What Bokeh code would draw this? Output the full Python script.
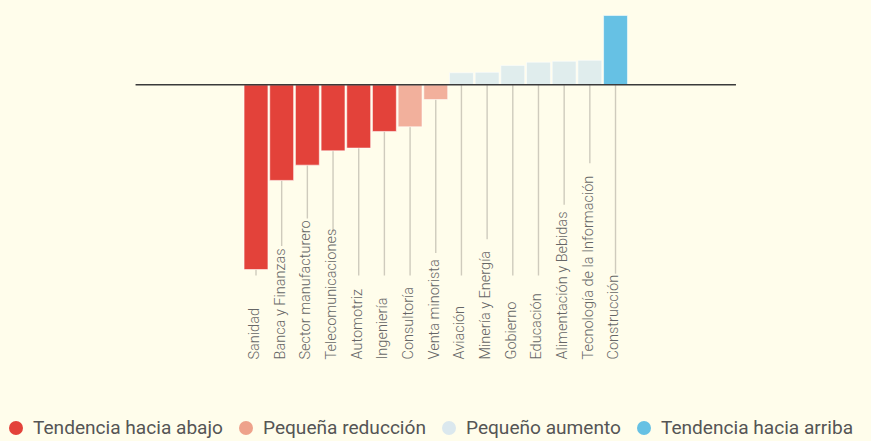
import math
from bokeh.plotting import figure
from bokeh.models import Range1d, Legend, LegendItem, ColumnDataSource
from bokeh.core.properties import value
from bokeh.embed import file_html
from bokeh.resources import INLINE

# ---------------- data ----------------
categories = ["Sanidad", "Banca y Finanzas", "Sector manufacturero", "Telecomunicaciones",
              "Automotriz", "Ingeniería", "Consultoría", "Venta minorista", "Aviación",
              "Minería y Energía", "Gobierno", "Educación", "Alimentación y Bebidas",
              "Tecnología de la Información", "Construcción"]
values = [-40.0, -20.7, -17.4, -14.3, -13.7, -10.1, -9.1, -3.2,
          2.6, 2.7, 4.2, 4.9, 5.1, 5.3, 15.0]
trend = [0, 0, 0, 0, 0, 0, 1, 1, 2, 2, 2, 2, 2, 2, 3]
legend_labels = ["Tendencia hacia abajo", "Pequeña reducción", "Pequeño aumento", "Tendencia hacia arriba"]

# ---------------- style / layout ----------------
BG = "#fffdeb"
bar_colors = ["#e3423a", "#f2b09c", "#e0eded", "#66c1e4"]
legend_colors = ["#e3423a", "#eea28b", "#dbe8ee", "#66c1e4"]
W, H = 870, 440
PX = 4.618          # pixels per unit
BASE_Y = 84.3       # baseline distance from top (px)
PITCH = 25.68       # px per category
FIRST = 255.5       # px of first category centre
PAD = 4.19          # baseline extension in bands
LABEL_PX = 359      # label start (px from top)
CHAR_W = 6.9
LINE_MAX = 275

n = len(categories)
xs = list(range(n))

p = figure(width=W, height=H, output_backend="svg", toolbar_location=None,
           x_range=Range1d(-FIRST / PITCH, (W - FIRST) / PITCH),
           y_range=Range1d(-(H - BASE_Y) / PX, BASE_Y / PX),
           min_border=0, min_border_left=0, min_border_right=0,
           min_border_top=0, min_border_bottom=0)
p.axis.visible = False
p.xgrid.visible = False
p.ygrid.visible = False
p.outline_line_color = None
p.background_fill_color = BG
p.border_fill_color = BG

# connector lines from bar end to label
y0s, y1s = [], []
for c, v in zip(categories, values):
    top_px = LABEL_PX - len(c) * CHAR_W - 3
    end_px = min(LINE_MAX, top_px)
    y0s.append(min(v, 0))
    y1s.append(-(end_px - BASE_Y) / PX)
p.segment(x0=xs, x1=xs, y0=y0s, y1=y1s, line_color="#cfcbbd", line_width=1.4)

src = ColumnDataSource(dict(x=xs, top=values, color=[bar_colors[t] for t in trend]))
p.vbar(x="x", top="top", bottom=0, width=0.93, fill_color="color",
       line_color="#ffffff", line_alpha=0.55, line_width=1, source=src)

# baseline
p.segment(x0=[-0.5 - PAD], x1=[n - 0.5 + PAD], y0=[0], y1=[0],
          line_color="#3a3a3a", line_width=1.4)

# category labels
p.text(x=[x - 0.06 for x in xs], y=[-(LABEL_PX - BASE_Y) / PX] * n, text=categories,
       angle=math.pi / 2, text_align="left", text_baseline="middle",
       text_font=value("Roboto Light, Roboto"), text_font_size="14.5px", text_color="#666666")

# legend (invisible zero-size markers on each group's bars supply the legend glyphs)
items = []
for k, (lab, col) in enumerate(zip(legend_labels, legend_colors)):
    gx = [x for x, t in zip(xs, trend) if t == k]
    gy = [v for v, t in zip(values, trend) if t == k]
    r = p.scatter(x=gx, y=gy, marker="circle", size=0, fill_color=col, line_color=None)
    items.append(LegendItem(label=lab, renderers=[r]))
legend = Legend(items=items, orientation="horizontal", location=(-2, -5),
                glyph_width=35, glyph_height=35, label_standoff=0, spacing=5,
                padding=0, margin=0, border_line_color=None, background_fill_alpha=0,
                label_text_font="Roboto", label_text_font_size="19.1px",
                label_text_color="#555555")
p.add_layout(legend)

html = file_html(p, INLINE)
html = html.replace("<body>", '<body style="background-color:%s;">' % BG)
open("out.html", "w").write(html)
